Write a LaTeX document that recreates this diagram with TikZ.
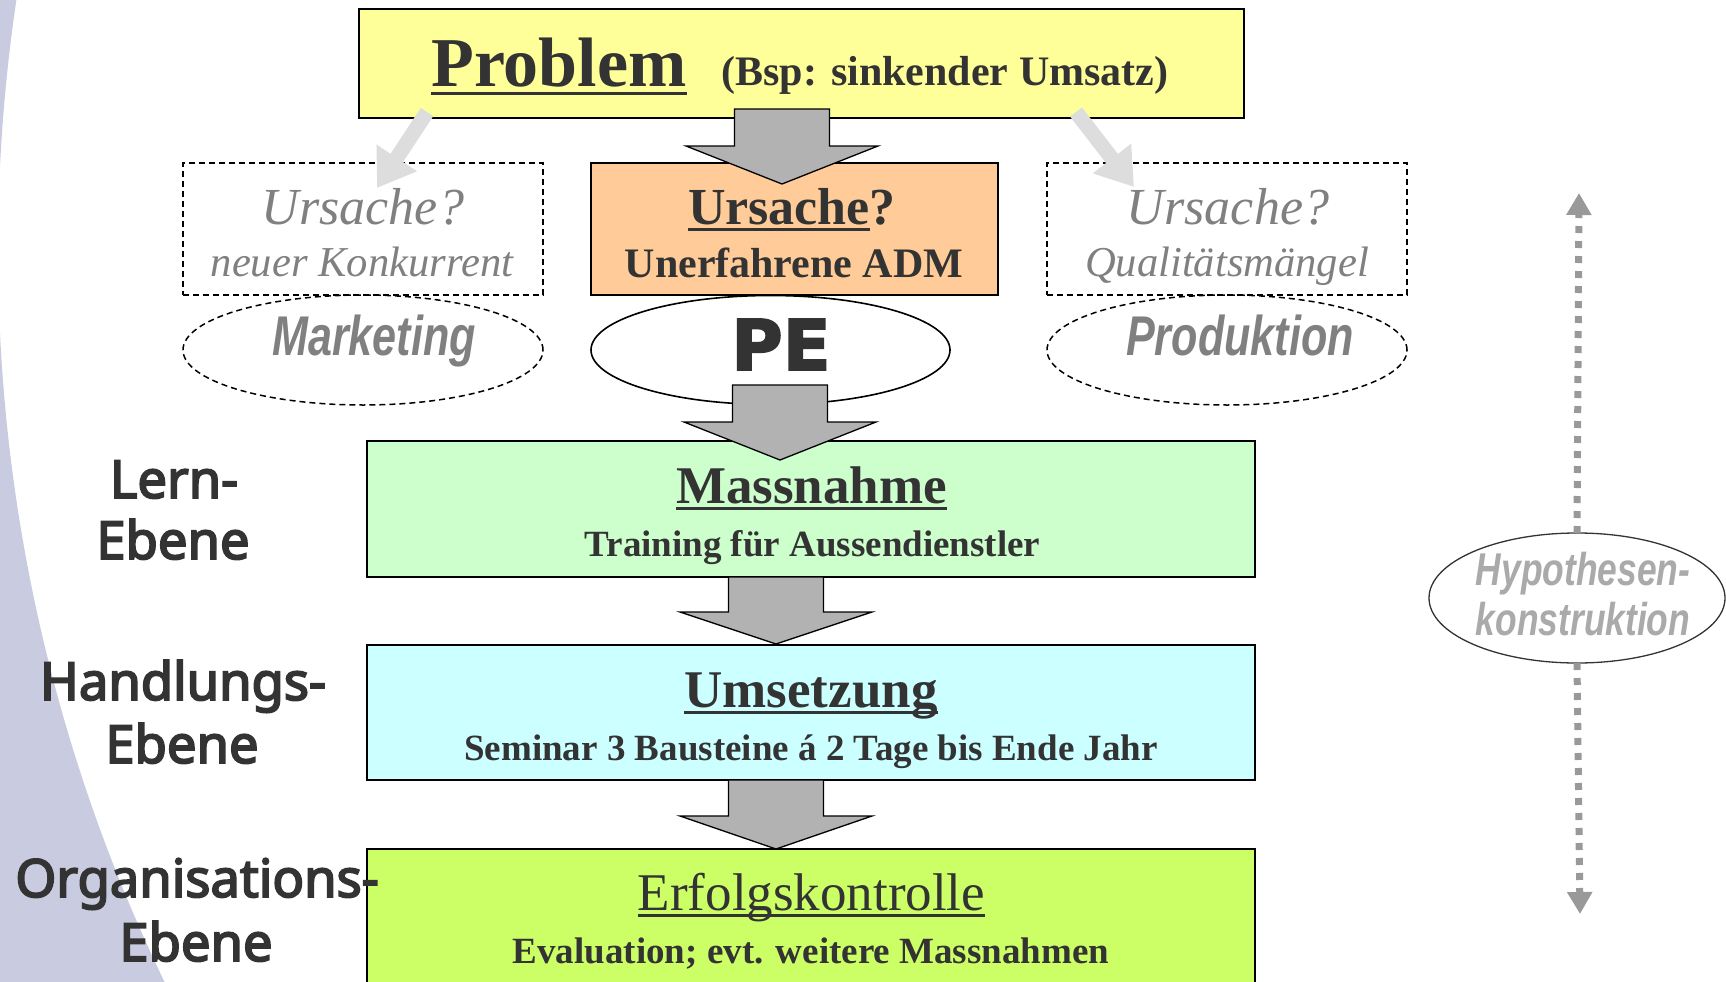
\documentclass[tikz,border=0pt]{standalone}
\usepackage{fontspec}
\setmainfont{Liberation Serif}
\newfontfamily\labfont[FakeBold=3.5]{Noto Sans}
\newfontfamily\narrowfont[FakeStretch=0.77]{Liberation Sans}
\newfontfamily\pefont[FakeBold=2.5]{DejaVu Sans}
\usetikzlibrary{shapes.geometric,arrows.meta,calc}
\definecolor{txtc}{HTML}{333333}
\definecolor{lav}{HTML}{C9CCE0}
\definecolor{probfill}{HTML}{FFFF99}
\definecolor{ursfill}{HTML}{FFCC99}
\definecolor{massfill}{HTML}{CCFFCC}
\definecolor{umsfill}{HTML}{CCFFFF}
\definecolor{erffill}{HTML}{CCFF66}
\definecolor{bararrow}{HTML}{B2B2B2}
\definecolor{lightarr}{HTML}{DDDDDD}
\definecolor{dotgray}{HTML}{999999}
\definecolor{midgray}{HTML}{808080}
\definecolor{hypgray}{HTML}{AAAAAA}
\newsavebox\ulbx
\newcommand\ulx[1]{\sbox\ulbx{#1}\rlap{\rule[-0.13em]{\wd\ulbx}{0.05em}}\usebox\ulbx}
\newcommand\fs[1]{\fontsize{#1}{#1}\selectfont}
\newcommand\blockarrow[3]{%
  \draw[barrow] let \p1=(#1), \p2=(#2) in
    (\x2-47.5pt,\y1) -- (\x2+47.5pt,\y1) -- (\x2+47.5pt,\y2+#3) -- (\x2+96pt,\y2+#3)
    -- (\x2,\y2) -- (\x2-96pt,\y2+#3) -- (\x2-47.5pt,\y2+#3) -- cycle;}
\begin{document}
\begin{tikzpicture}[x=1pt,y=-1pt,
  box/.style={draw=black, line width=1.6pt, inner sep=0pt, outer sep=0pt},
  dbox/.style={draw=black, line width=1.5pt, dash pattern=on 6pt off 4pt, inner sep=0pt, outer sep=0pt},
  oval/.style={ellipse, inner sep=0pt, outer sep=0pt},
  barrow/.style={fill=bararrow, draw=black, line width=1.3pt, line join=miter},
  larrow/.style={draw=lightarr, line width=15pt, -{Triangle[width=46pt,length=36pt]}},
  darrow/.style={draw=dotgray, line width=7pt, dash pattern=on 7pt off 8pt, -{Triangle[width=24pt,length=22pt]}},
  lbl/.style={anchor=base, inner sep=0pt, outer sep=0pt, text=txtc, font=\bfseries},
  glbl/.style={anchor=base, inner sep=0pt, outer sep=0pt, text=midgray, font=\itshape},
  nlbl/.style={anchor=base, inner sep=0pt, outer sep=0pt, font=\narrowfont\bfseries\itshape},
  side/.style={anchor=base, inner sep=0pt, outer sep=0pt, text=txtc, font=\labfont\fs{52.5}}
]
\useasboundingbox (0,0) rectangle (1726,982);
% background arc
\begin{scope}
  \clip (0,0) rectangle (1726,982);
  \fill[lav, even odd rule] (-10,-10) rectangle (1736,992) (1686,250) circle[radius=1688pt];
\end{scope}

% main boxes
\node[box, fill=probfill, minimum width=885pt, minimum height=109pt] (prob) at (801.5,63.5) {};
\node[box, fill=ursfill, minimum width=407pt, minimum height=132pt] (urs) at (794.5,229) {};
\node[dbox, minimum width=360pt, minimum height=132pt] (lbox) at (363,229) {};
\node[dbox, minimum width=360pt, minimum height=132pt] (rbox) at (1227,229) {};
\node[dbox, oval, minimum width=360pt, minimum height=110pt] (mkt) at (363,350) {};
\node[dbox, oval, minimum width=360pt, minimum height=110pt] (prd) at (1227,350) {};
\node[box, oval, fill=white, minimum width=359pt, minimum height=109pt] (pe) at (770.5,350) {};
\node[box, fill=massfill, minimum width=888pt, minimum height=136pt] (mass) at (811,509) {};
\node[box, fill=umsfill, minimum width=888pt, minimum height=135pt] (ums) at (811,712.5) {};
\node[box, fill=erffill, minimum width=888pt, minimum height=151pt] (erf) at (811,924.5) {};

% block arrows
\coordinate (a1s) at (782,109);  \coordinate (a1t) at (782,184);
\coordinate (a2s) at (780,385);  \coordinate (a2t) at (780,460);
\coordinate (a3s) at (776,577);  \coordinate (a3t) at (776,644);
\coordinate (a4s) at (776,780);  \coordinate (a4t) at (776,849);
\blockarrow{a1s}{a1t}{38pt}
\blockarrow{a2s}{a2t}{38pt}
\blockarrow{a3s}{a3t}{32pt}
\blockarrow{a4s}{a4t}{33pt}

% light arrows
\coordinate (la1) at (427,112); \coordinate (la2) at (377,188);
\coordinate (ra1) at (1076,112); \coordinate (ra2) at (1134,187);
\draw[larrow] (la1) -- (la2);
\draw[larrow] (ra1) -- (ra2);

% texts
\node[lbl, font=\bfseries\fs{70}] (tprob) at (559,86) {\ulx{Problem}};
\node[lbl, font=\bfseries\fs{42}] (tbsp) at (945,85) {(Bsp: sinkender Umsatz)};
\node[lbl, font=\bfseries\fs{52}] (turs) at (792,224) {\ulx{Ursache}?};
\node[lbl, font=\bfseries\fs{42}] (tadm) at (794,277) {Unerfahrene ADM};
\node[glbl, font=\itshape\fs{52}] (tlu) at (363,224) {Ursache?};
\node[glbl, font=\itshape\fs{42.6}] (tlk) at (362,276) {neuer Konkurrent};
\node[glbl, font=\itshape\fs{52}] (tru) at (1228,224) {Ursache?};
\node[glbl, font=\itshape\fs{42.6}] (trq) at (1227,276) {Qualitätsmängel};
\node[nlbl, text=midgray, font=\narrowfont\bfseries\itshape\fs{56}] (tmkt) at (374,355) {Marketing};
\node[nlbl, text=midgray, font=\narrowfont\bfseries\itshape\fs{56}] (tprd) at (1240,355) {Produktion};
\node[lbl, font=\pefont\bfseries\fs{70}] (tpe) at (781,370) {PE};
\node[lbl, font=\bfseries\fs{53}] (tmass) at (811.5,503) {\ulx{Massnahme}};
\node[lbl, font=\bfseries\fs{37}] (ttrain) at (812.5,556) {Training für Aussendienstler};
\node[lbl, font=\bfseries\fs{53}] (tums) at (811,707) {\ulx{Umsetzung}};
\node[lbl, font=\bfseries\fs{37}] (tsem) at (811,760) {Seminar 3 Bausteine á 2 Tage bis Ende Jahr};
\node[lbl, font=\mdseries\fs{53}] (terf) at (811.5,910) {\ulx{Erfolgskontrolle}};
\node[lbl, font=\bfseries\fs{37}] (teval) at (811,963) {Evaluation; evt. weitere Massnahmen};

% side labels
\node[side] (s1a) at (174,498) {Lern-};
\node[side] (s1b) at (173,559) {Ebene};
\node[side] (s2a) at (183,700) {Handlungs-};
\node[side] (s2b) at (182,763) {Ebene};
\node[side] (s3a) at (197,897) {Organisations-};
\node[side] (s3b) at (196,961) {Ebene};

% hypothesis construction
\node[oval, draw=txtc, line width=1.3pt, fill=white, minimum width=296pt, minimum height=130pt] (hyp) at (1577,598) {};
\coordinate (htop) at (1579,193);
\coordinate (hbot) at (1580,914);
\draw[darrow] (hyp.north) -- (htop);
\draw[darrow] (hyp.south) -- (hbot);
\node[nlbl, text=hypgray, font=\narrowfont\bfseries\itshape\fs{46}] (th1) at (1583,585) {Hypothesen-};
\node[nlbl, text=hypgray, font=\narrowfont\bfseries\itshape\fs{46}] (th2) at (1583,635) {konstruktion};
\end{tikzpicture}
\end{document}
